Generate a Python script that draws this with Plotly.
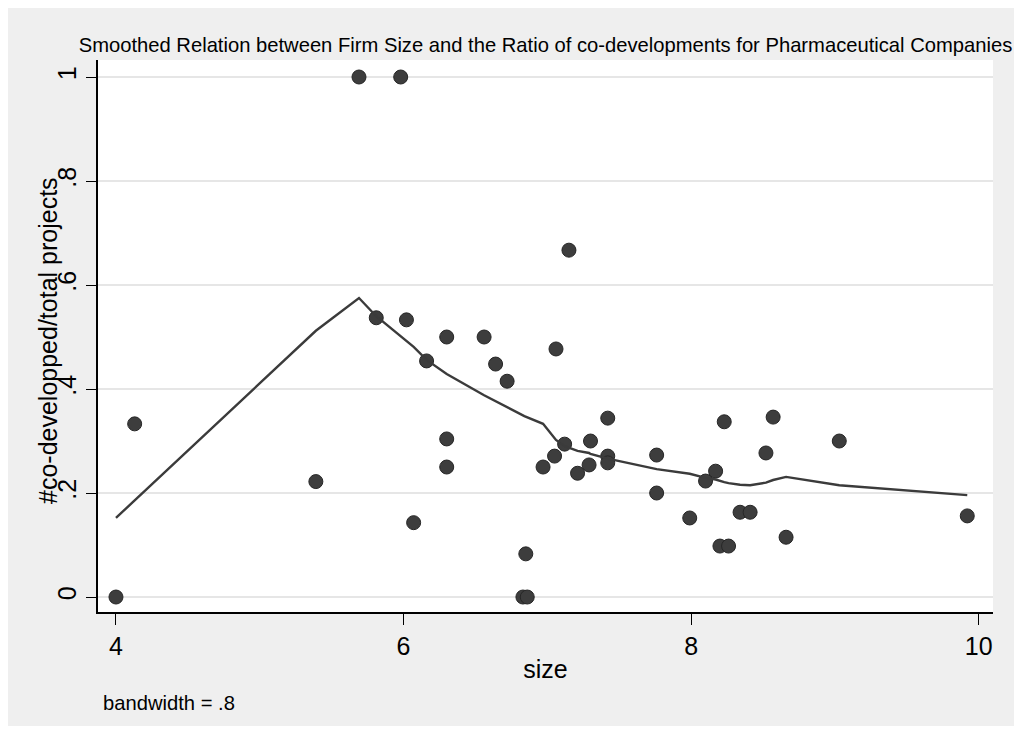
import plotly.graph_objects as go

# Scatter data (size, ratio of co-developed projects)
size = [4.00, 4.13, 5.39, 5.69, 5.98, 5.81, 6.02, 6.07, 6.16, 6.30, 6.30, 6.30,
        6.56, 6.64, 6.72, 6.85, 6.83, 6.86, 7.06, 6.97, 7.05, 7.12, 7.15, 7.21,
        7.29, 7.30, 7.42, 7.42, 7.42, 7.76, 7.76, 7.99, 8.10, 8.17, 8.20, 8.26,
        8.23, 8.34, 8.41, 8.52, 8.57, 8.66, 9.03, 9.92]
ratio = [0.000, 0.333, 0.222, 1.000, 1.000, 0.537, 0.533, 0.143, 0.454, 0.500, 0.304, 0.250,
         0.500, 0.448, 0.415, 0.083, 0.000, 0.000, 0.477, 0.250, 0.271, 0.294, 0.667, 0.238,
         0.254, 0.300, 0.344, 0.271, 0.258, 0.273, 0.200, 0.152, 0.223, 0.242, 0.098, 0.098,
         0.337, 0.163, 0.163, 0.277, 0.346, 0.115, 0.300, 0.156]

# Lowess smooth
smooth_x = [4.00, 4.13, 5.39, 5.69, 5.81, 5.98, 6.02, 6.07, 6.16, 6.30, 6.56, 6.64,
            6.72, 6.84, 6.97, 7.05, 7.06, 7.12, 7.15, 7.21, 7.29, 7.30, 7.42, 7.76,
            7.99, 8.10, 8.17, 8.20, 8.23, 8.26, 8.34, 8.41, 8.52, 8.57, 8.66, 9.03, 9.92]
smooth_y = [0.152, 0.186, 0.512, 0.575, 0.540, 0.502, 0.494, 0.481, 0.456, 0.429, 0.388, 0.377,
            0.365, 0.348, 0.333, 0.306, 0.302, 0.290, 0.287, 0.281, 0.277, 0.275, 0.266, 0.246,
            0.237, 0.229, 0.226, 0.223, 0.221, 0.219, 0.216, 0.215, 0.220, 0.225, 0.231, 0.215, 0.196]

x_ticks = [4, 6, 8, 10]
x_ticktext = ["4", "6", "8", "10"]
y_ticks = [0, 0.2, 0.4, 0.6, 0.8, 1]
y_ticktext = ["0", ".2", ".4", ".6", ".8", "1"]

FONT = "Liberation Sans, Arial, Helvetica, sans-serif"

fig = go.Figure()
fig.add_trace(go.Scatter(
    x=size, y=ratio, mode="markers",
    marker=dict(size=14, color="#3d3d3d", line=dict(color="#262626", width=1)),
    showlegend=False, hoverinfo="x+y"))
fig.add_trace(go.Scatter(
    x=smooth_x, y=smooth_y, mode="lines",
    line=dict(color="#3b3b3b", width=2.4),
    showlegend=False))

fig.update_layout(
    width=1011, height=718,
    paper_bgcolor="#efefef", plot_bgcolor="#ffffff",
    margin=dict(l=90, r=26, t=52, b=114),
    font=dict(family=FONT, color="#000000"),
    title=dict(text="Smoothed Relation between Firm Size and the Ratio of co-developments for Pharmaceutical Companies",
               x=0.5, xref="paper", xanchor="center", y=1 - 37 / 718, yref="container", yanchor="middle",
               font=dict(size=20.2, family=FONT, color="#000000")),
    xaxis=dict(range=[3.875, 10.099], tickvals=x_ticks, ticktext=x_ticktext,
               showgrid=False, zeroline=False, showline=True, linecolor="#000000", linewidth=1.5,
               ticks="outside", ticklen=11, tickwidth=1.2, tickcolor="#000000",
               tickfont=dict(size=25),
               title=dict(text="size", font=dict(size=25), standoff=2)),
    yaxis=dict(range=[-0.0288, 1.0327], tickvals=y_ticks, ticktext=y_ticktext,
               showgrid=True, gridcolor="#e6e6e6", gridwidth=2, zeroline=False,
               showline=True, linecolor="#000000", linewidth=1.5,
               ticks="outside", ticklen=10, tickwidth=1.2, tickcolor="#000000",
               tickangle=-90, tickfont=dict(size=25)),
    annotations=[
        dict(text="#co-developped/total projects", xref="paper", yref="paper",
             x=(40 - 90) / 895, y=(604 - 333) / 552, xanchor="center", yanchor="middle",
             textangle=-90, showarrow=False, font=dict(size=25, family=FONT, color="#000000")),
        dict(text="bandwidth = .8", xref="paper", yref="paper",
             x=(101 - 98) / 895, y=(612 - 703) / 552, xanchor="left", yanchor="middle",
             showarrow=False, font=dict(size=20.2, family=FONT, color="#000000")),
    ],
)

fig.write_html("out.html")
